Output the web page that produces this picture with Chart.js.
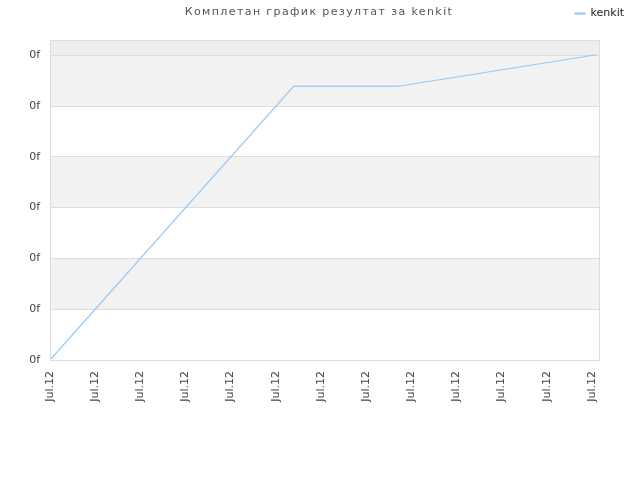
<!DOCTYPE html>
<html>
<head>
<meta charset="utf-8">
<script src="https://cdn.jsdelivr.net/npm/chart.js@4/dist/chart.umd.min.js"></script>
<style>
  html, body { margin: 0; padding: 0; background: #fff; }
  #wrap { width: 640px; height: 480px; }
</style>
</head>
<body>
<div id="wrap"><canvas id="myChart" width="640" height="480"></canvas></div>
<script>
const chartTitle = 'Комплетан график резултат за kenkit'
const seriesName = 'kenkit'
// x tick labels (one per step on the x axis)
const xLabels = ['Jul.12', 'Jul.12', 'Jul.12', 'Jul.12', 'Jul.12', 'Jul.12', 'Jul.12',
    'Jul.12', 'Jul.12', 'Jul.12', 'Jul.12', 'Jul.12', 'Jul.12']
const yLabels = ['0f', '0f', '0f', '0f', '0f', '0f', '0f']
// points
const xValues = [0, 5.4, 7.72, 12.1]
const yValues = [0, 5.39, 5.39, 6.01]

const lineColor = 'rgb(150, 199, 245)'

// alternating grey bands behind the plot
const bandsPlugin = {
    id: 'bands',
    beforeDraw(chart) {
        const { ctx, chartArea, scales } = chart
        const y = scales.y
        ctx.save()
        for (let i = 0; i < yLabels.length - 1; i++) {
            if (i % 2 === 1) {
                const top = y.getPixelForValue(i + 1)
                const bottom = y.getPixelForValue(i)
                ctx.fillStyle = '#f2f2f2'
                ctx.fillRect(chartArea.left, top, chartArea.right - chartArea.left, bottom - top)
            }
        }
        const lastTop = y.getPixelForValue(yLabels.length - 1)
        ctx.fillStyle = '#eeeeee'
        ctx.fillRect(chartArea.left, chartArea.top, chartArea.right - chartArea.left, lastTop - chartArea.top)
        ctx.restore()
    },
    afterDraw(chart) {
        const { ctx, chartArea } = chart
        ctx.save()
        ctx.strokeStyle = '#dddddd'
        ctx.lineWidth = 1
        ctx.strokeRect(chartArea.left + 0.5, chartArea.top + 0.5, chartArea.right - chartArea.left - 1, chartArea.bottom - chartArea.top)
        ctx.fillStyle = '#555'
        ctx.font = '11px "DejaVu Sans"'
        ctx.letterSpacing = '1.4px'
        ctx.textAlign = 'center'
        ctx.textBaseline = 'middle'
        ctx.fillText(chartTitle, 319, 12)
        ctx.restore()
    }
}

// empty axes that only reserve room on the right and above the plot
const spacer = (size, horizontal) => ({
    display: true,
    grid: { display: false },
    border: { display: false },
    ticks: { display: false },
    afterFit: (scale) => {
        if (horizontal) scale.height = size
        else scale.width = size
    }
})

const ctx = document.getElementById('myChart')
new Chart(ctx, {
    type: 'line',
    data: {
        datasets: [
            {
                label: seriesName,
                data: xValues.map((x, i) => ({ x: x, y: yValues[i] })),
                borderColor: lineColor,
                backgroundColor: lineColor,
                borderWidth: 1.2,
                pointRadius: 0,
                tension: 0,
                fill: false
            }
        ]
    },
    options: {
        responsive: false,
        animation: false,
        layout: { padding: { right: 8 } },
        plugins: {
            title: { display: false },
            tooltip: { enabled: false },
            legend: {
                position: 'top',
                align: 'end',
                labels: {
                    boxWidth: 10,
                    boxHeight: 1,
                    padding: 8,
                    color: '#222',
                    font: { family: 'DejaVu Sans', size: 11 }
                }
            }
        },
        scales: {
            x: {
                type: 'linear',
                min: 0,
                max: 12.18,
                afterFit: (scale) => { scale.height = 120 },
                grid: { display: false, drawTicks: false },
                border: { display: false },
                ticks: {
                    stepSize: 1,
                    includeBounds: false,
                    autoSkip: false,
                    minRotation: 90,
                    maxRotation: 90,
                    padding: 11,
                    color: '#444',
                    font: { family: 'DejaVu Sans', size: 11 },
                    callback: (v) => xLabels[v]
                }
            },
            y: {
                min: 0,
                max: 6.3,
                afterFit: (scale) => { scale.width = 50 },
                grid: { color: '#dddddd', drawTicks: false },
                border: { display: false },
                ticks: {
                    stepSize: 1,
                    includeBounds: false,
                    padding: 10,
                    color: '#444',
                    font: { family: 'DejaVu Sans', size: 11 },
                    callback: (v) => yLabels[v]
                }
            },
            xTop: Object.assign({ type: 'linear', position: 'top' }, spacer(11, true)),
            yRight: Object.assign({ type: 'linear', position: 'right' }, spacer(32, false))
        }
    },
    plugins: [bandsPlugin]
})
</script>
</body>
</html>
